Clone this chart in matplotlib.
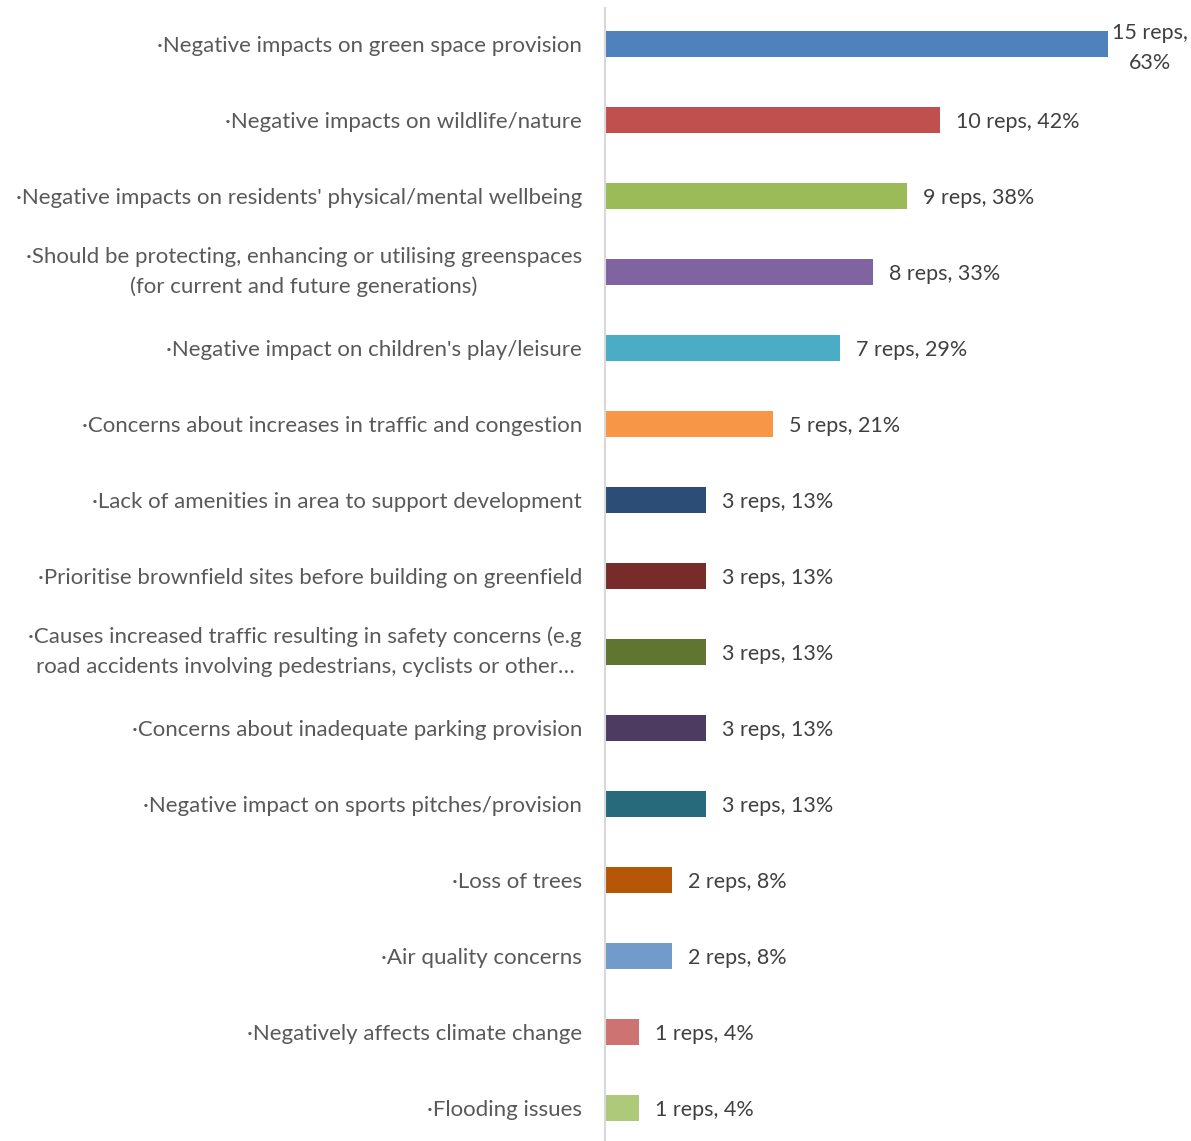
import matplotlib
matplotlib.use("Agg")
import matplotlib.pyplot as plt

categories = [
    "·Negative impacts on green space provision",
    "·Negative impacts on wildlife/nature",
    "·Negative impacts on residents' physical/mental wellbeing",
    "·Should be protecting, enhancing or utilising greenspaces\n(for current and future generations)",
    "·Negative impact on children's play/leisure",
    "·Concerns about increases in traffic and congestion",
    "·Lack of amenities in area to support development",
    "·Prioritise brownfield sites before building on greenfield",
    "·Causes increased traffic resulting in safety concerns (e.g\nroad accidents involving pedestrians, cyclists or other…",
    "·Concerns about inadequate parking provision",
    "·Negative impact on sports pitches/provision",
    "·Loss of trees",
    "·Air quality concerns",
    "·Negatively affects climate change",
    "·Flooding issues",
]
reps = [15, 10, 9, 8, 7, 5, 3, 3, 3, 3, 3, 2, 2, 1, 1]
pcts = [63, 42, 38, 33, 29, 21, 13, 13, 13, 13, 13, 8, 8, 4, 4]
colors = ["#4F81BD", "#C0504D", "#9BBB59", "#8064A2", "#4BACC6", "#F79646",
          "#2C4D75", "#772C2A", "#5F7530", "#4D3B62", "#276A7C", "#B65708",
          "#729ACA", "#CD7371", "#AFC97A"]

plt.rcParams['font.family'] = ['Lato', 'DejaVu Sans']
W, H = 1191, 1141
fig = plt.figure(figsize=(W / 100, H / 100), dpi=100)
# axes spans y from 6px (top) to 1146px (just past bottom)
ax = fig.add_axes([605 / W, -5 / H, 503 / W, 1140 / H])

y = list(range(len(categories)))
ax.barh(y, reps, height=0.34, color=colors)
ax.set_ylim(len(categories) - 0.5, -0.5)
ax.set_xlim(0, 15)

ax.set_yticks(y)
ax.set_yticklabels(categories, fontsize=16, color="#595959", linespacing=1.6)
ax.tick_params(axis="y", length=0, pad=16.5)
for lbl in ax.get_yticklabels():
    lbl.set_horizontalalignment("right")
    lbl.set_multialignment("center")
    if "\n" in lbl.get_text():
        lbl.set_verticalalignment("center")
ax.set_xticks([])

for s in ["top", "right", "bottom"]:
    ax.spines[s].set_visible(False)
ax.spines["left"].set_color("#D9D9D9")
ax.spines["left"].set_linewidth(1.5)
ax.spines["left"].set_bounds(len(categories) - 0.5, -0.47)

for i, (r, p) in enumerate(zip(reps, pcts)):
    if i == 0:
        ax.text(r + 0.12, i + 0.05, f"{r} reps,\n{p}%", va="center", ha="left",
                fontsize=15.5, color="#404040", clip_on=False,
                multialignment="center", linespacing=1.6)
    else:
        ax.text(r + 0.48, i + 0.02, f"{r} reps, {p}%", va="center", ha="left",
                fontsize=15.5, color="#404040", clip_on=False)

fig.savefig("out.png", dpi=100, facecolor="white")
